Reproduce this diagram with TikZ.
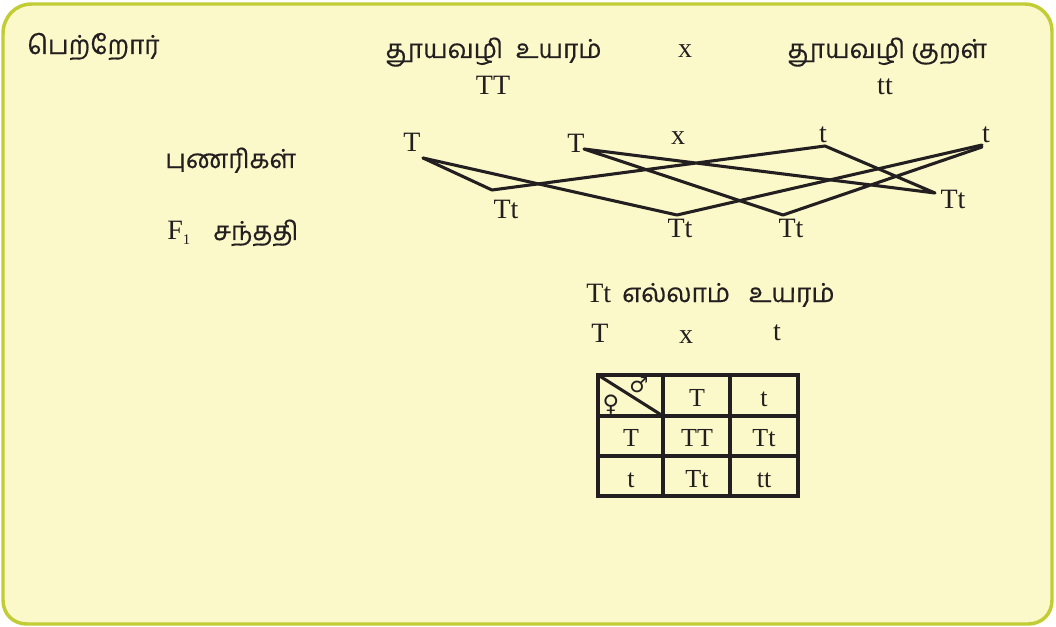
\documentclass[tikz,border=0pt]{standalone}
\usepackage{fontspec}
\setmainfont{Liberation Serif}
\newfontfamily\tamil[Script=Tamil,FakeBold=0.4]{Hind Madurai}
\newfontfamily\symb{DejaVu Sans}
\definecolor{framec}{HTML}{C2CC35}
\definecolor{fillc}{HTML}{FBF8C9}
\definecolor{ink}{HTML}{231F20}
\begin{document}
\begin{tikzpicture}[x=0.75pt,y=-0.75pt,
  lat/.style={font=\fontsize{21}{24}\selectfont, text=ink, inner sep=0pt, anchor=base},
  tam/.style={font=\tamil\fontsize{19.6}{22}\selectfont, text=ink, inner sep=0pt, anchor=base west},
  tab/.style={font=\fontsize{19.5}{22}\selectfont, text=ink, inner sep=0pt, anchor=base},
  link/.style={draw=ink, line width=2.3pt, line cap=round, line join=round},
  grid/.style={draw=ink, line width=2.3pt}]
\useasboundingbox (0,0) rectangle (1056,627);
% frame
\draw[draw=framec, fill=fillc, line width=2.6pt]
  (3,600) -- (3,34) .. controls (3,17) and (15,4) .. (32,4)
  -- (1025,4) .. controls (1040,4) and (1052,16) .. (1052,31)
  -- (1052,600) .. controls (1052,614) and (1042,624) .. (1028,624)
  -- (27,624) .. controls (13,624) and (3,614) .. (3,600) -- cycle;
% left labels
\node[tam] (par) at (27,54) {பெற்றோர்};
\node[tam] (gam) at (165,168) {புணரிகள்};
\node[lat, anchor=base west] (f1) at (167,240) {F\raisebox{-0.35ex}{\fontsize{11}{12}\selectfont 1}};
\node[tam] (f1t) at (213,240) {சந்ததி};
% parents
\node[tam] (ptall) at (385,58) {தூயவழி\ \ உயரம்};
\node[lat] (px) at (685,58) {x};
\node[tam] (pshort) at (787,58) {தூயவழி\ குறள்};
\node[lat] (TT) at (493,95) {TT};
\node[lat] (tt) at (885,95) {tt};
% gametes
\node[lat] (g1) at (412,152) {T};
\node[lat] (g2) at (576,153) {T};
\node[lat] (gx) at (678,145) {x};
\node[lat] (g3) at (823,143) {t};
\node[lat] (g4) at (986,143) {t};
\coordinate (a1) at (423,158);
\coordinate (a2) at (584,149);
\coordinate (a3) at (825,146);
\coordinate (a4) at (982,145);
\coordinate (a4b) at (982,147);
% offspring
\node[lat] (o1) at (506,219) {Tt};
\node[lat] (o2) at (680,238) {Tt};
\node[lat] (o3) at (791,238) {Tt};
\node[lat] (o4) at (953,209) {Tt};
\coordinate (b1) at (492,190);
\coordinate (b2) at (677,215);
\coordinate (b3) at (783,215);
\coordinate (b4) at (935,193);
\draw[link] (a1) -- (b1) -- (a3) -- (b4) -- (a2) -- (b3) -- (a4b);
\draw[link] (a1) -- (b2) -- (a4);
% result
\node[lat, anchor=base west] (res1) at (586,302) {Tt};
\node[tam] (res2) at (622,302) {எல்லாம்\hspace{14pt}உயரம்};
\node[lat] (cT) at (600,342) {T};
\node[lat] (cx) at (686,343) {x};
\node[lat] (ct) at (777,340) {t};
% punnett square
\draw[grid] (598,375) rectangle (798,496);
\draw[grid] (663,375) -- (663,496);
\draw[grid] (730,375) -- (730,496);
\draw[grid] (598,416) -- (798,416);
\draw[grid] (598,456) -- (798,456);
\draw[grid] (598,375) -- (663,416);
\node[font=\symb\fontsize{16}{18}\selectfont, text=ink, inner sep=0pt] (male) at (639,385) {♂};
\node[font=\symb\fontsize{17}{18}\selectfont, text=ink, inner sep=0pt] (fem) at (611,405) {♀};
\node[tab] (h1) at (697,406) {T};
\node[tab] (h2) at (764,406) {t};
\node[tab] (r1) at (631,446) {T};
\node[tab] (c11) at (697,446) {TT};
\node[tab] (c12) at (764,446) {Tt};
\node[tab] (r2) at (631,487) {t};
\node[tab] (c21) at (697,487) {Tt};
\node[tab] (c22) at (764,487) {tt};
\end{tikzpicture}
\end{document}
